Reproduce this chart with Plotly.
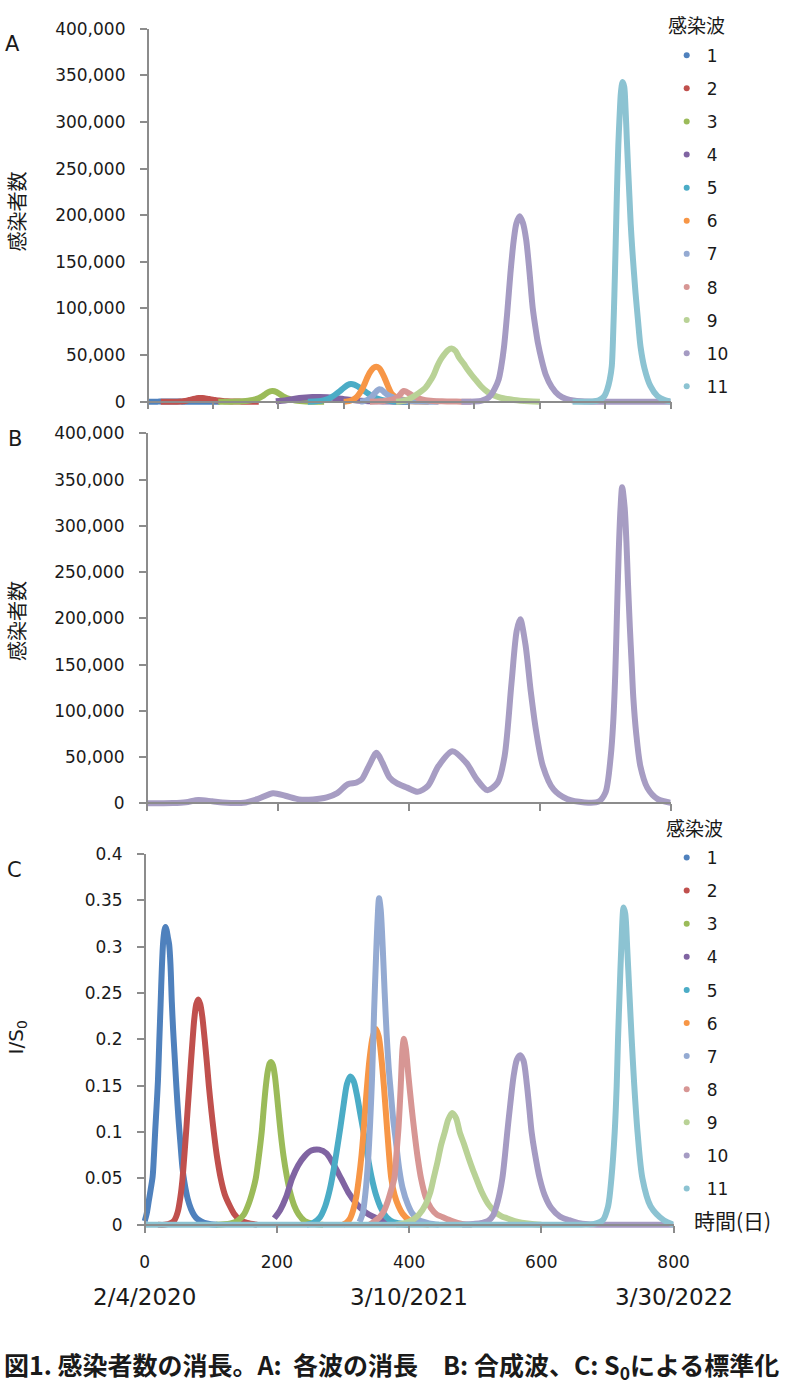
import plotly.graph_objects as go

W, H = 800, 1392

WAVE_NAMES = ["1", "2", "3", "4", "5", "6", "7", "8", "9", "10", "11"]
COLORS = ["#4F81BD", "#C0504D", "#9BBB59", "#8064A2", "#4BACC6", "#F79646",
          "#94AAD2", "#D79694", "#B9D296", "#A59BC3", "#8CC3D2"]
B_COLOR = "#A79DC3"

X_TICKS_C = [0, 200, 400, 600, 800]
DATE_LABELS = ["2/4/2020", "3/10/2021", "3/30/2022"]
DATE_DAYS = [0, 400, 800]

# ---------------- wave data (day, I/S0 for panel C, counts for panel A) -------------
W1_DAYS = [0, 3, 6, 9, 12, 14, 16, 18, 20, 22, 24, 26, 28, 30, 31.5, 33, 35, 37, 39, 41, 43, 45, 48, 51, 54, 57, 60, 65, 70, 75, 80, 90, 100, 110]
W1_C = [0.004, 0.012, 0.025, 0.038, 0.052, 0.075, 0.103, 0.128, 0.155, 0.197, 0.237, 0.278, 0.306, 0.318, 0.321, 0.318, 0.31, 0.302, 0.28, 0.24, 0.21, 0.185, 0.148, 0.115, 0.088, 0.062, 0.046, 0.028, 0.017, 0.01, 0.006, 0.002, 0.0005, 0]
W1_A = [4, 13, 27, 42, 57, 82, 113, 140, 170, 215, 260, 305, 335, 348, 352, 348, 340, 330, 305, 262, 230, 202, 162, 126, 96, 68, 50, 31, 19, 11, 7, 2, 1, 0]

W2_DAYS = [20, 30, 40, 45, 50, 54, 57, 60, 62.6, 65, 67.5, 70, 72.5, 75, 78, 81, 84, 87, 90.7, 94, 97, 101, 104.5, 109, 115, 121, 129, 136, 144, 155, 170]
W2_C = [0, 0, 0.002, 0.005, 0.014, 0.03, 0.048, 0.075, 0.1, 0.125, 0.15, 0.176, 0.2, 0.222, 0.238, 0.243, 0.238, 0.225, 0.2, 0.175, 0.15, 0.122, 0.1, 0.075, 0.05, 0.033, 0.02, 0.011, 0.005, 0.002, 0]
W2_A = [0, 0, 35, 80, 230, 500, 800, 1240, 1650, 2060, 2470, 2900, 3300, 3660, 3920, 4000, 3920, 3700, 3300, 2880, 2470, 2010, 1650, 1240, 820, 540, 330, 180, 80, 35, 0]

W3_DAYS = [108, 120, 130, 140, 150, 158, 164, 168, 172, 177, 180, 183, 186, 189, 191, 194, 197, 200, 203, 206, 210, 215, 220, 226, 233, 242, 255, 270]
W3_C = [0, 0.0005, 0.0015, 0.004, 0.011, 0.024, 0.038, 0.05, 0.07, 0.1, 0.125, 0.148, 0.165, 0.174, 0.1756, 0.172, 0.16, 0.14, 0.118, 0.097, 0.074, 0.052, 0.035, 0.021, 0.011, 0.004, 0.001, 0]
W3_A = [0, 33, 100, 260, 720, 1570, 2490, 3280, 4590, 6550, 8190, 9690, 10800, 11400, 11500, 11270, 10480, 9170, 7730, 6350, 4850, 3410, 2290, 1380, 720, 260, 65, 0]

W4_DAYS = [196, 205, 214, 223, 232, 242, 252, 264, 275, 285, 297, 308, 320, 333, 345, 360, 380, 400]
W4_C = [0.007, 0.016, 0.03, 0.05, 0.064, 0.074, 0.08, 0.081, 0.077, 0.066, 0.05, 0.035, 0.023, 0.014, 0.009, 0.005, 0.001, 0]
W4_A = [430, 1000, 1860, 3100, 3970, 4590, 4960, 5020, 4770, 4090, 3100, 2170, 1430, 870, 560, 310, 60, 0]

W5_DAYS = [245, 255, 265, 273, 280, 286, 291, 296, 301, 306, 311, 316, 321, 326, 331, 337, 343, 350, 358, 366, 376, 390, 400]
W5_C = [0, 0.002, 0.008, 0.02, 0.038, 0.06, 0.082, 0.105, 0.13, 0.152, 0.16, 0.155, 0.14, 0.12, 0.1, 0.075, 0.052, 0.032, 0.017, 0.008, 0.003, 0.001, 0]
W5_A = [0, 240, 950, 2400, 4500, 7100, 9700, 12500, 15400, 18000, 19000, 18400, 16600, 14250, 11900, 8900, 6200, 3800, 2000, 950, 360, 120, 0]

W6_DAYS = [300, 305, 310, 315, 320, 324, 328, 331, 335, 340, 345, 349.6, 354, 358, 362, 367, 373, 378, 384, 390, 400, 415, 430]
W6_C = [0, 0.002, 0.006, 0.015, 0.03, 0.05, 0.075, 0.1, 0.138, 0.178, 0.203, 0.211, 0.203, 0.18, 0.148, 0.1, 0.05, 0.032, 0.02, 0.012, 0.005, 0.0015, 0]
W6_A = [0, 360, 1070, 2650, 5300, 8900, 13300, 17800, 24500, 31600, 36100, 37500, 36100, 32000, 26300, 17800, 8900, 5700, 3550, 2100, 900, 270, 0]

W7_DAYS = [325, 330, 334, 338, 341, 344, 347, 350, 352, 354.5, 357, 360, 363, 366, 369, 372, 376, 380, 385, 390, 398, 405, 415, 430, 445]
W7_C = [0.003, 0.013, 0.035, 0.07, 0.11, 0.16, 0.23, 0.29, 0.325, 0.352, 0.34, 0.30, 0.25, 0.205, 0.17, 0.145, 0.113, 0.09, 0.06, 0.04, 0.022, 0.012, 0.005, 0.0015, 0]
W7_A = [115, 500, 1340, 2690, 4220, 6140, 8830, 11140, 12480, 13500, 13060, 11520, 9600, 7870, 6530, 5570, 4340, 3460, 2300, 1540, 845, 460, 190, 60, 0]

W8_DAYS = [340, 348, 355, 362, 368, 373, 377.6, 381, 384, 387, 390, 392, 395, 399, 404, 408, 413, 418, 425, 433, 442, 450, 465, 480, 495]
W8_C = [0, 0.004, 0.008, 0.015, 0.026, 0.038, 0.05, 0.078, 0.105, 0.145, 0.19, 0.2005, 0.19, 0.16, 0.125, 0.1, 0.072, 0.05, 0.03, 0.018, 0.011, 0.0085, 0.004, 0.001, 0]
W8_A = [0, 230, 460, 860, 1500, 2200, 2870, 4480, 6030, 8320, 10900, 11500, 10900, 9200, 7200, 5740, 4130, 2870, 1720, 1030, 630, 490, 230, 60, 0]

W9_DAYS = [380, 395, 405, 415, 425, 432, 437, 443, 448, 454, 459, 465, 471, 476.5, 483, 490, 496, 501.5, 510, 520, 530, 540, 548, 560, 583, 600]
W9_C = [0, 0.002, 0.005, 0.011, 0.022, 0.035, 0.05, 0.068, 0.085, 0.1, 0.113, 0.1205, 0.115, 0.1, 0.087, 0.072, 0.06, 0.05, 0.035, 0.022, 0.014, 0.009, 0.007, 0.004, 0.001, 0]
W9_A = [0, 1500, 5000, 9500, 15000, 22000, 28000, 38000, 45000, 51000, 55000, 57000, 54400, 47300, 41200, 34000, 28400, 23700, 16600, 10400, 6600, 4300, 3300, 1900, 470, 0]

W10_C_DAYS = [480, 500, 510, 519, 527, 534, 541, 545, 548.5, 553, 558, 563, 568, 573, 578, 582, 585.3, 590, 597.5, 605, 615, 628, 642, 655, 671, 690, 720, 760, 800]
W10_C = [0, 0.001, 0.002, 0.004, 0.01, 0.025, 0.05, 0.075, 0.1, 0.13, 0.16, 0.178, 0.1828, 0.177, 0.152, 0.124, 0.1, 0.078, 0.05, 0.032, 0.018, 0.009, 0.005, 0.002, 0.0005, 0, 0, 0, 0]
W10_A_DAYS = [480, 500, 510, 518, 525, 531, 537, 541, 545, 550, 555, 560, 564, 569, 574, 579, 584, 589, 594, 597, 603, 609, 618, 629, 640, 654, 670, 690, 720, 760, 800]
W10_A = [0, 300, 1000, 3000, 7000, 14000, 24000, 38000, 58000, 95000, 138000, 173000, 191000, 199000, 192000, 174000, 140000, 101000, 76000, 63000, 44000, 29000, 16000, 7100, 3000, 1000, 300, 0, 0, 0, 0]

W11_C_DAYS = [0, 200, 400, 600, 680, 693, 701, 706, 711, 714, 716, 718.4, 721, 724.4, 727, 729.8, 733.2, 736.7, 740.6, 745.5, 752.9, 765.2, 785, 800]
W11_C = [0, 0, 0, 0, 0.001, 0.005, 0.02, 0.05, 0.1, 0.15, 0.2, 0.25, 0.3, 0.342, 0.335, 0.3, 0.25, 0.2, 0.15, 0.1, 0.05, 0.02, 0.005, 0]
W11_A_DAYS = [650, 680, 689, 695, 699, 703, 707, 710, 712, 714, 716, 718, 720, 722, 724, 726.5, 729, 731, 733, 735, 737, 739, 741.4, 744, 746.4, 750, 754, 760, 769, 780, 790, 800]
W11_A = [0, 300, 1100, 3500, 6400, 13000, 24000, 38000, 70000, 115000, 170000, 228000, 275000, 307000, 332000, 343000, 338000, 315000, 282000, 250000, 220000, 190000, 163000, 138000, 116000, 88000, 59000, 36000, 17000, 6000, 2000, 300]

# ---------------- panel B: combined wave -------------
B_DAYS = [0, 20, 40, 60, 79, 100, 116, 148, 169, 193, 211.6, 233, 254, 275, 291, 307, 320.5, 328.5, 339, 351, 360, 371, 381.7, 397.6, 413.6, 429.5, 445.5, 466.7, 488, 504, 520, 536, 546.5, 557, 565, 570.4, 578.3, 586.3, 594.3, 605, 621, 642, 668.7, 690, 700.6, 708.6, 712.3, 715.5, 718.2, 720.8, 723.5, 726, 729.8, 732.5, 735, 737.8, 740.5, 743, 747.4, 753.8, 764.4, 780.4, 800]
B_VALS = [0, 150, 300, 1200, 3600, 2200, 1000, 700, 4600, 11000, 8200, 4300, 4300, 6400, 11000, 20700, 22500, 26000, 40000, 54600, 43900, 27800, 21800, 17000, 12500, 18900, 40300, 56400, 43900, 26000, 14300, 22500, 51000, 129500, 186600, 199000, 172000, 122000, 79600, 40300, 15300, 4600, 1000, 1800, 11800, 51000, 86700, 140000, 208000, 272000, 318600, 341800, 320000, 283000, 236600, 190000, 151000, 115000, 76000, 40300, 17000, 4600, 700]

C_SERIES = [(W1_DAYS, W1_C), (W2_DAYS, W2_C), (W3_DAYS, W3_C), (W4_DAYS, W4_C),
            (W5_DAYS, W5_C), (W6_DAYS, W6_C), (W7_DAYS, W7_C), (W8_DAYS, W8_C),
            (W9_DAYS, W9_C), (W10_C_DAYS, W10_C), (W11_C_DAYS, W11_C)]
A_SERIES = [(W1_DAYS, W1_A), (W2_DAYS, W2_A), (W3_DAYS, W3_A), (W4_DAYS, W4_A),
            (W5_DAYS, W5_A), (W6_DAYS, W6_A), (W7_DAYS, W7_A), (W8_DAYS, W8_A),
            (W9_DAYS, W9_A), (W10_A_DAYS, W10_A), (W11_A_DAYS, W11_A)]

# ---------------- layout helpers (page pixel geometry) -------------
LAT = "DejaVu Sans, Noto Sans CJK JP, sans-serif"
JP = "Noto Sans CJK JP, sans-serif"
AXIS_COL = "#8c8c8c"
TXT = "#1a1a1a"
LW = 6


def px_x(p):
    return p / W


def px_y(p):
    return 1 - p / H


def panel(x0px, x1px, y0px, ytoppx, ymax, xpad=5, ypad_frac=0.0125):
    """x0px: pixel of day 0, x1px: of day 800, y0px: of value 0, ytoppx: of ymax"""
    xs = (x1px - x0px) / 800.0
    xleft = x0px - xpad * xs
    ys = (y0px - ytoppx) / ymax
    ypad = ymax * ypad_frac
    ybot = y0px + ypad * ys
    return dict(xdom=[px_x(xleft), px_x(x1px)], xrange=[-xpad, 800],
                ydom=[px_y(ybot), px_y(ytoppx)], yrange=[-ypad, ymax],
                xpos=px_y(y0px), ypos=px_x(x0px))


PA = panel(149, 684, 396, 19, 400000)
PB = panel(148, 684, 802, 428, 400000)
PC = panel(146, 687, 1228, 853, 0.4)

fig = go.Figure()

# Panel A
for i, (d, v) in enumerate(A_SERIES):
    fig.add_trace(go.Scatter(x=d, y=v, mode="lines", xaxis="x", yaxis="y",
                             line=dict(color=COLORS[i], width=LW, shape="spline", smoothing=0.8),
                             showlegend=False, hoverinfo="skip"))
for i, name in enumerate(WAVE_NAMES):
    fig.add_trace(go.Scatter(x=[None], y=[None], mode="markers", xaxis="x", yaxis="y",
                             marker=dict(color=COLORS[i], size=6), name=name,
                             legend="legend", legendgroup="a" + name, showlegend=True))

# Panel B
fig.add_trace(go.Scatter(x=B_DAYS, y=B_VALS, mode="lines", xaxis="x2", yaxis="y2",
                         line=dict(color=B_COLOR, width=LW, shape="spline", smoothing=0.8),
                         showlegend=False, hoverinfo="skip"))

# Panel C
for i, (d, v) in enumerate(C_SERIES):
    fig.add_trace(go.Scatter(x=d, y=v, mode="lines", xaxis="x3", yaxis="y3",
                             line=dict(color=COLORS[i], width=LW, shape="spline", smoothing=0.8),
                             showlegend=False, hoverinfo="skip"))
for i, name in enumerate(WAVE_NAMES):
    fig.add_trace(go.Scatter(x=[None], y=[None], mode="markers", xaxis="x3", yaxis="y3",
                             marker=dict(color=COLORS[i], size=6), name=name,
                             legend="legend2", legendgroup="c" + name, showlegend=True))

ax_common = dict(showgrid=False, zeroline=False, showline=True, linecolor=AXIS_COL,
                 linewidth=1.5, ticks="outside", ticklen=7, tickcolor=AXIS_COL, tickwidth=1.5,
                 tickfont=dict(family=LAT, size=17, color=TXT), fixedrange=True)


def xaxis(p, dtick, labels):
    d = dict(ax_common, domain=p["xdom"], range=p["xrange"], anchor="free",
             position=p["xpos"], tick0=0, dtick=dtick, showticklabels=labels)
    if labels:
        d.update(tickmode="array", tickvals=X_TICKS_C, ticklabelstandoff=15)
    return d


def yaxis(p, dtick, fmt, standoff):
    return dict(ax_common, domain=p["ydom"], range=p["yrange"], anchor="free",
                position=p["ypos"], tick0=0, dtick=dtick, tickformat=fmt,
                ticklabelstandoff=standoff)


legend_common = dict(font=dict(family=LAT, size=17, color=TXT), bgcolor="rgba(0,0,0,0)",
                     xanchor="left", yanchor="top", tracegroupgap=8, itemwidth=30)

fig.update_layout(
    width=W, height=H, margin=dict(l=0, r=0, t=0, b=0),
    paper_bgcolor="white", plot_bgcolor="white",
    xaxis=xaxis(PA, 100, False),
    yaxis=yaxis(PA, 50000, ",", 11),
    xaxis2=xaxis(PB, 200, False),
    yaxis2=yaxis(PB, 50000, ",", 11),
    xaxis3=xaxis(PC, 200, True),
    yaxis3=yaxis(PC, 0.05, "", 11),
    legend=dict(legend_common, x=px_x(680), y=px_y(28)),
    legend2=dict(legend_common, x=px_x(680), y=px_y(839)),
    showlegend=True,
)

ann = []


def add_text(text, xp, yp, size, family=LAT, angle=0, bold=False, xanchor="center"):
    ann.append(dict(text=("<b>%s</b>" % text) if bold else text, x=px_x(xp), y=px_y(yp),
                    xref="paper", yref="paper", showarrow=False, textangle=angle,
                    xanchor=xanchor, yanchor="middle",
                    font=dict(family=family, size=size, color=TXT)))


add_text("A", 11, 34, 21)
add_text("B", 13, 434, 21)
add_text("C", 13, 869, 21)
add_text("感染波", 710, 15, 19, family=JP)
add_text("感染波", 708, 826, 19, family=JP)
add_text("感染者数", 15, 204, 20, family=JP, angle=-90)
add_text("感染者数", 15, 618, 20, family=JP, angle=-90)
add_text("I/S<sub>0</sub>", 15, 1039, 20, angle=-90)
add_text("時間(日)", 747, 1223, 21, family=JP)
for lbl, d in zip(DATE_LABELS, DATE_DAYS):
    ann.append(dict(text=lbl, x=d, xref="x3", y=px_y(1301), yref="paper", showarrow=False,
                    xanchor="center", yanchor="middle",
                    font=dict(family=LAT, size=23, color=TXT)))
add_text("図1. 感染者数の消長。A:  各波の消長　B: 合成波、C: S<sub>0</sub>による標準化",
         398, 1370, 25, family=JP, bold=True)

fig.update_layout(annotations=ann)

fig.write_html("out.html", config={"displayModeBar": False},
               post_script="document.body.style.margin='0px';")
